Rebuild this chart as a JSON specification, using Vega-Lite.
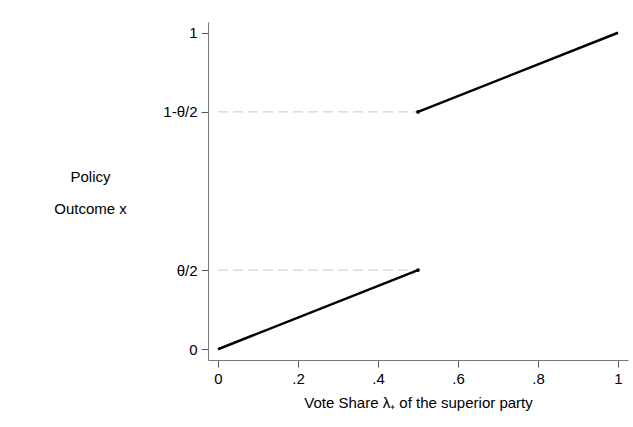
{
  "$schema": "https://vega.github.io/schema/vega-lite/v6.json",
  "width": 420,
  "height": 338,
  "autosize": {"type": "none"},
  "padding": {"left": 208, "top": 22, "right": 5, "bottom": 67},
  "background": "white",
  "config": {
    "view": {"stroke": null},
    "axis": {
      "grid": false,
      "domainColor": "#777777",
      "domainWidth": 1,
      "tickColor": "#555555",
      "tickSize": 7,
      "labelFont": "Liberation Sans",
      "labelFontSize": 15,
      "labelColor": "#000000",
      "titleFont": "Liberation Sans",
      "titleFontSize": 15,
      "titleFontWeight": "normal",
      "titleColor": "#000000"
    }
  },
  "data": {
    "values": [
      {"series": "low", "x": 0, "y": 0},
      {"series": "low", "x": 0.5, "y": 0.25},
      {"series": "high", "x": 0.5, "y": 0.75},
      {"series": "high", "x": 1, "y": 1},
      {"series": "ref_low", "x": 0, "y": 0.25},
      {"series": "ref_low", "x": 0.5, "y": 0.25},
      {"series": "ref_high", "x": 0, "y": 0.75},
      {"series": "ref_high", "x": 0.5, "y": 0.75}
    ]
  },
  "encoding": {
    "x": {
      "field": "x",
      "type": "quantitative",
      "scale": {"domain": [-0.025, 1.025], "nice": false, "zero": false},
      "axis": {
        "values": [0, 0.2, 0.4, 0.6, 0.8, 1],
        "labelExpr": "datum.value == 0 ? '0' : datum.value == 1 ? '1' : replace(format(datum.value, '.1f'), '0.', '.')",
        "labelPadding": 4,
        "title": "Vote Share λ₊ of the superior party",
        "titleY": 42,
        "titleBaseline": "middle"
      }
    },
    "y": {
      "field": "y",
      "type": "quantitative",
      "scale": {"domain": [-0.034, 1.034], "nice": false, "zero": false},
      "axis": {
        "values": [0, 0.25, 0.75, 1],
        "labelExpr": "datum.value == 0.25 ? 'θ/2' : datum.value == 0.75 ? '1-θ/2' : datum.value == 1 ? '1' : '0'",
        "labelPadding": 4,
        "title": ["Policy", "Outcome x"],
        "titleAngle": 0,
        "titleAlign": "center",
        "titleBaseline": "alphabetic",
        "titleX": -118,
        "titleY": 159,
        "titleLineHeight": 32
      }
    }
  },
  "layer": [
    {
      "transform": [{"filter": "datum.series == 'ref_low' || datum.series == 'ref_high'"}],
      "mark": {"type": "line", "color": "#c8c8c8", "strokeWidth": 1, "strokeDash": [10, 5]},
      "encoding": {"detail": {"field": "series"}}
    },
    {
      "transform": [{"filter": "datum.series == 'low' || datum.series == 'high'"}],
      "mark": {"type": "line", "color": "#000000", "strokeWidth": 2.5},
      "encoding": {"detail": {"field": "series"}}
    },
    {
      "transform": [{"filter": "(datum.series == 'low' || datum.series == 'high') && datum.x == 0.5"}],
      "mark": {"type": "point", "filled": true, "color": "#000000", "size": 14, "opacity": 1}
    }
  ]
}
